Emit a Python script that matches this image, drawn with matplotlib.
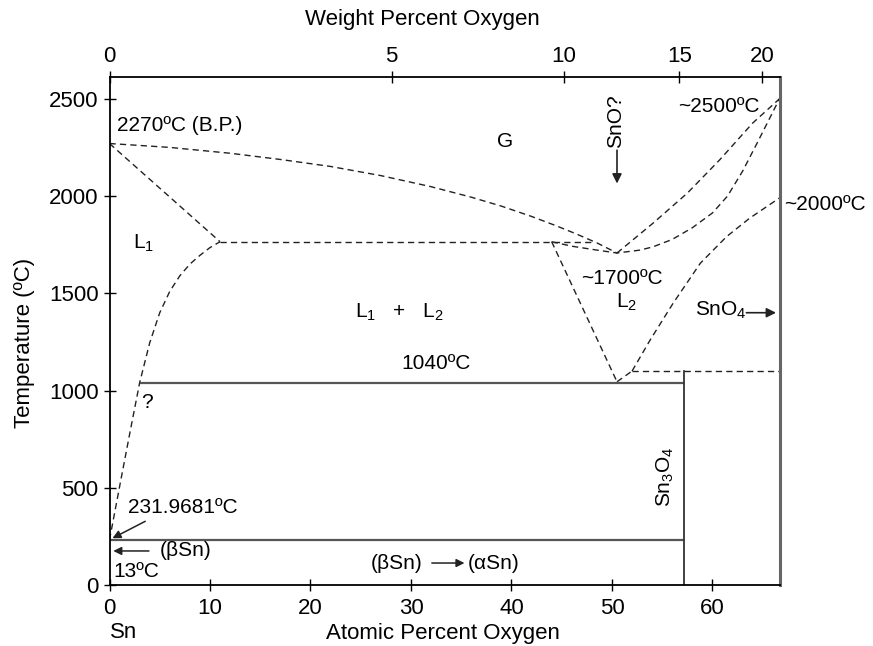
import matplotlib
matplotlib.use("Agg")
import matplotlib.pyplot as plt

plt.rcParams['font.family'] = ['Liberation Sans Narrow', 'Liberation Sans', 'DejaVu Sans']
plt.rcParams['mathtext.fontset'] = 'custom'
plt.rcParams['mathtext.rm'] = 'Liberation Sans'
plt.rcParams['mathtext.it'] = 'Liberation Sans'

# phase boundaries (at.% O, degC)
gas_x = [0, 6, 12, 17, 22, 27, 32, 36, 39, 42, 44.5, 46.5, 48.5, 50.5]
gas_T = [2270, 2250, 2220, 2188, 2152, 2105, 2048, 1994, 1948, 1895, 1846, 1804, 1759, 1707]

liq1_x = [0, 11]
liq1_T = [2270, 1765]

l1_x = [0, 1, 2, 3, 4, 5, 6, 7, 8, 9, 10, 11]
l1_T = [232, 505, 775, 1040, 1245, 1400, 1510, 1590, 1650, 1695, 1735, 1765]

mono_x = [11, 48.2]
mono_T = [1765, 1765]

l2_left_x = [44, 50.5]
l2_left_T = [1765, 1045]

l2_top_x = [44, 46, 48.5, 50.5, 52.8, 54.1, 56, 58, 60, 61.5, 63, 64.5, 66.67]
l2_top_T = [1765, 1742, 1722, 1707, 1722, 1739, 1777, 1837, 1913, 2000, 2128, 2278, 2500]

g2500_x = [50.5, 54.1, 57.5, 60.7, 64.0, 66.67]
g2500_T = [1707, 1861, 2015, 2185, 2375, 2500]

v_right_x = [50.5, 52.0]
v_right_T = [1045, 1100]

l2000_x = [52.0, 53.8, 56.1, 58.8, 61.4, 63.7, 66.67]
l2000_T = [1100, 1260, 1450, 1655, 1791, 1886, 1990]

h1100_x = [52.0, 66.67]
h1100_T = [1100, 1100]

# solid lines
eut_x = [3, 57.14]
eut_T = [1040, 1040]
melt_x = [0, 57.14]
melt_T = [232, 232]
sn3o4_x = [57.14, 57.14]
sn3o4_T = [0, 1100]

at_ticks = [0, 10, 20, 30, 40, 50, 60]
wt_ticks = [0, 5, 10, 15, 20]

M_O, M_SN = 16.0, 118.71


def wt_to_at(w):
    if w == 0:
        return 0.0
    o = w / M_O
    s = (100 - w) / M_SN
    return 100 * o / (o + s)


fig = plt.figure(figsize=(8.73, 6.46), dpi=100)
ax = fig.add_axes([109.5 / 873, 61 / 646, 670 / 873, 508 / 646])
ax.set_xlim(0, 66.67)
ax.set_ylim(0, 2612)

dash = dict(color='#222222', lw=1.0, linestyle=(0, (4.5, 3)))
for xs, ts in [(gas_x, gas_T), (liq1_x, liq1_T), (l1_x, l1_T), (mono_x, mono_T),
               (l2_left_x, l2_left_T), (l2_top_x, l2_top_T), (g2500_x, g2500_T),
               (v_right_x, v_right_T), (l2000_x, l2000_T), (h1100_x, h1100_T)]:
    ax.plot(xs, ts, **dash)

solid = dict(color='#555555', lw=1.6, solid_capstyle='butt')
ax.plot(eut_x, eut_T, **solid)
ax.plot(melt_x, melt_T, **solid)
ax.plot(sn3o4_x, sn3o4_T, color='#333333', lw=1.3)

for s in ['left', 'bottom', 'top']:
    ax.spines[s].set_linewidth(1.3)
    ax.spines[s].set_color('black')
ax.spines['right'].set_linewidth(2.2)
ax.spines['right'].set_color('#666666')

ax.set_xticks(at_ticks)
ax.set_yticks([0, 500, 1000, 1500, 2000, 2500])
ax.tick_params(axis='x', direction='inout', length=8, width=1, labelsize=16, pad=5)
ax.tick_params(axis='y', direction='inout', length=8, width=1, labelsize=16, pad=4)

ax2 = ax.twiny()
ax2.set_xlim(ax.get_xlim())
ax2.set_xticks([wt_to_at(w) for w in wt_ticks])
ax2.set_xticklabels([str(w) for w in wt_ticks])
ax2.tick_params(axis='x', direction='inout', length=8, width=1, labelsize=16, pad=3)
for s in ax2.spines.values():
    s.set_visible(False)

fs = 15
fig.text(422 / 873, 1 - 19 / 646, 'Weight Percent Oxygen', ha='center', va='center', fontsize=16)
fig.text(443 / 873, 1 - 633 / 646, 'Atomic Percent Oxygen', ha='center', va='center', fontsize=16)
fig.text(25 / 873, 1 - 343 / 646, 'Temperature (ºC)', ha='center', va='center', fontsize=16, rotation=90)
ax.text(0, -0.094, 'Sn', transform=ax.get_xaxis_transform(), ha='left', va='center', fontsize=16)

ax.text(0.75, 2365, '2270ºC (B.P.)', ha='left', va='center', fontsize=fs)
ax.text(39.4, 2278, 'G', ha='center', va='center', fontsize=fs)
ax.text(50.4, 2386, 'SnO?', ha='center', va='center', fontsize=fs, rotation=90)
ax.annotate('', xy=(50.5, 2050), xytext=(50.5, 2250),
            arrowprops=dict(arrowstyle='-|>', color='#222222', lw=1.2, mutation_scale=14))
ax.text(60.6, 2459, '~2500ºC', ha='center', va='center', fontsize=fs)
ax.text(67.1, 1954, '~2000ºC', ha='left', va='center', fontsize=fs, clip_on=False)
ax.text(3.4, 1758, 'L$_1$', ha='center', va='center', fontsize=fs)
ax.text(28.8, 1404, 'L$_1$   +   L$_2$', ha='center', va='center', fontsize=fs)
ax.text(51.0, 1577, '~1700ºC', ha='center', va='center', fontsize=fs)
ax.text(51.5, 1455, 'L$_2$', ha='center', va='center', fontsize=fs)
ax.text(60.8, 1414, 'SnO$_4$', ha='center', va='center', fontsize=fs)
ax.annotate('', xy=(66.6, 1400), xytext=(63.1, 1400),
            arrowprops=dict(arrowstyle='-|>', color='#222222', lw=1.2, mutation_scale=14))
ax.text(32.5, 1141, '1040ºC', ha='center', va='center', fontsize=fs)
ax.text(3.7, 936, '?', ha='center', va='center', fontsize=fs)
ax.text(55.3, 555, 'Sn$_3$O$_4$', ha='center', va='center', fontsize=fs, rotation=90)
ax.text(1.85, 401, '231.9681ºC', ha='left', va='center', fontsize=fs)
ax.annotate('', xy=(0.05, 234), xytext=(3.8, 334),
            arrowprops=dict(arrowstyle='-|>', color='#222222', lw=1.1, mutation_scale=12))
ax.annotate('', xy=(0.1, 175), xytext=(4.2, 175),
            arrowprops=dict(arrowstyle='-|>', color='#222222', lw=1.1, mutation_scale=12))
ax.text(5.0, 175, '(βSn)', ha='left', va='center', fontsize=fs)
ax.text(0.35, 67, '13ºC', ha='left', va='center', fontsize=fs)
ax.text(28.6, 113, '(βSn)', ha='center', va='center', fontsize=fs)
ax.annotate('', xy=(35.6, 113), xytext=(31.8, 113),
            arrowprops=dict(arrowstyle='-|>', color='#222222', lw=1.1, mutation_scale=12))
ax.text(38.2, 113, '(αSn)', ha='center', va='center', fontsize=fs)

fig.savefig('out.png', dpi=100)
